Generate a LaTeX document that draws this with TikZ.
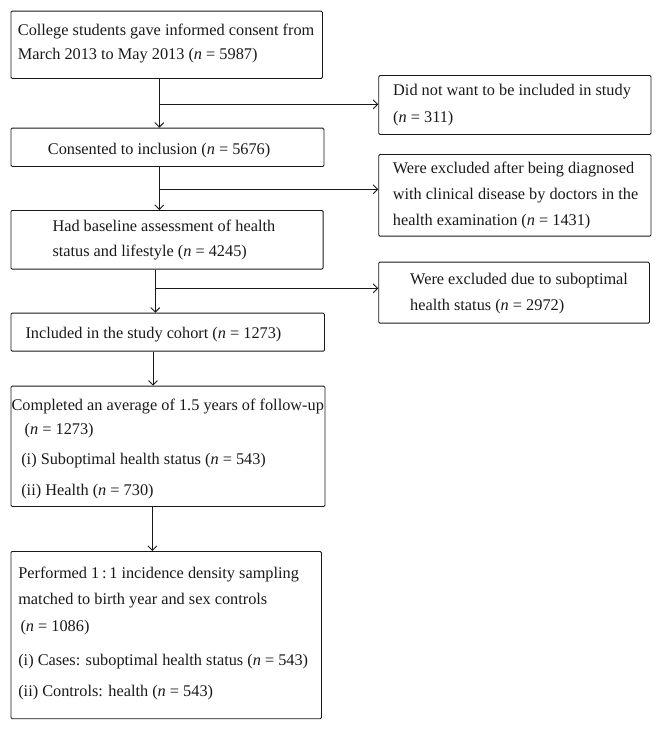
\documentclass[tikz,border=0pt]{standalone}
\usepackage{fontspec}
\setmainfont{Liberation Serif}
\usetikzlibrary{arrows.meta}
\newcommand{\nn}{\textit{n}}
\begin{document}
\begin{tikzpicture}[x=1pt,y=-1pt,
  box/.style={draw=black!90, line width=0.9pt, rounded corners=1.2pt, inner sep=0pt, anchor=north west},
  txt/.style={inner sep=0pt, anchor=base west, font=\fontsize{16.3}{26}\selectfont, text=black!90},
  arr/.style={draw=black!90, line width=0.9pt, -{Straight Barb[length=4.5pt,width=9pt]}}]
\useasboundingbox (0,0) rectangle (662,729);
% left boxes
\node[box, minimum width=311.5pt, minimum height=67.3pt] (b1) at (10.5,10.7) {};
\node[box, minimum width=313pt, minimum height=38.3pt] (b2) at (10.5,127.7) {};
\node[box, minimum width=312.2pt, minimum height=58.7pt] (b3) at (10.5,210) {};
\node[box, minimum width=313.5pt, minimum height=38pt] (b4) at (10.5,312.7) {};
\node[box, minimum width=314pt, minimum height=120.3pt] (b5) at (10.5,385.7) {};
\node[box, minimum width=310.5pt, minimum height=167.3pt] (b6) at (10.5,551) {};
% right boxes
\node[box, minimum width=272.2pt, minimum height=59pt] (r1) at (378.3,75) {};
\node[box, minimum width=272.2pt, minimum height=81.7pt] (r2) at (378.3,154) {};
\node[box, minimum width=270.7pt, minimum height=61pt] (r3) at (378.3,261.7) {};
% texts
\node[txt] (t1a) at (17.7,35) {College students gave informed consent from};
\node[txt] (t1b) at (17.7,59.3) {March 2013 to May 2013 (\nn{} = 5987)};
\node[txt] (s1a) at (393,95) {Did not want to be included in study};
\node[txt] (s1b) at (393,122.7) {(\nn{} = 311)};
\node[txt] (t2) at (47.7,154) {Consented to inclusion (\nn{} = 5676)};
\node[txt] (s2a) at (392.7,173.3) {Were excluded after being diagnosed};
\node[txt] (s2b) at (392.7,199.3) {with clinical disease by doctors in the};
\node[txt] (s2c) at (392.7,225.7) {health examination (\nn{} = 1431)};
\node[txt] (t3a) at (52.3,231) {Had baseline assessment of health};
\node[txt] (t3b) at (52.3,256.7) {status and lifestyle (\nn{} = 4245)};
\node[txt] (s3a) at (410,284.3) {Were excluded due to suboptimal};
\node[txt] (s3b) at (410,310.3) {health status (\nn{} = 2972)};
\node[txt] (t4) at (25.3,338) {Included in the study cohort (\nn{} = 1273)};
\node[txt] (t5a) at (11.4,410.7) {Completed an average of 1.5 years of follow-up};
\node[txt] (t5b) at (24.5,434.3) {(\nn{} = 1273)};
\node[txt] (t5c) at (21.1,464.3) {(i) Suboptimal health status (\nn{} = 543)};
\node[txt] (t5d) at (21.1,495) {(ii) Health (\nn{} = 730)};
\node[txt] (t6a) at (18.1,578.3) {Performed 1\,:\,1 incidence density sampling};
\node[txt] (t6b) at (18.1,604.3) {matched to birth year and sex controls};
\node[txt] (t6c) at (20.3,631) {(\nn{} = 1086)};
\node[txt] (t6d) at (18.1,665.7) {(i) Cases: suboptimal health status (\nn{} = 543)};
\node[txt] (t6e) at (18.1,696) {(ii) Controls: health (\nn{} = 543)};
% connectors
\coordinate (c1) at (159.3,104.3);
\coordinate (c2) at (159.3,189.3);
\coordinate (c3) at (155.3,288.3);
\coordinate (c4) at (153,368);
\coordinate (c5) at (152.3,528);
\draw[arr] (b1.south -| c1) -- (b2.north -| c1);
\draw[arr] (c1) -- (c1 -| r1.west);
\draw[arr] (b2.south -| c2) -- (b3.north -| c2);
\draw[arr] (c2) -- (c2 -| r2.west);
\draw[arr] (b3.south -| c3) -- (b4.north -| c3);
\draw[arr] (c3) -- (c3 -| r3.west);
\draw[arr] (b4.south -| c4) -- (b5.north -| c4);
\draw[arr] (b5.south -| c5) -- (b6.north -| c5);
\end{tikzpicture}
\end{document}
